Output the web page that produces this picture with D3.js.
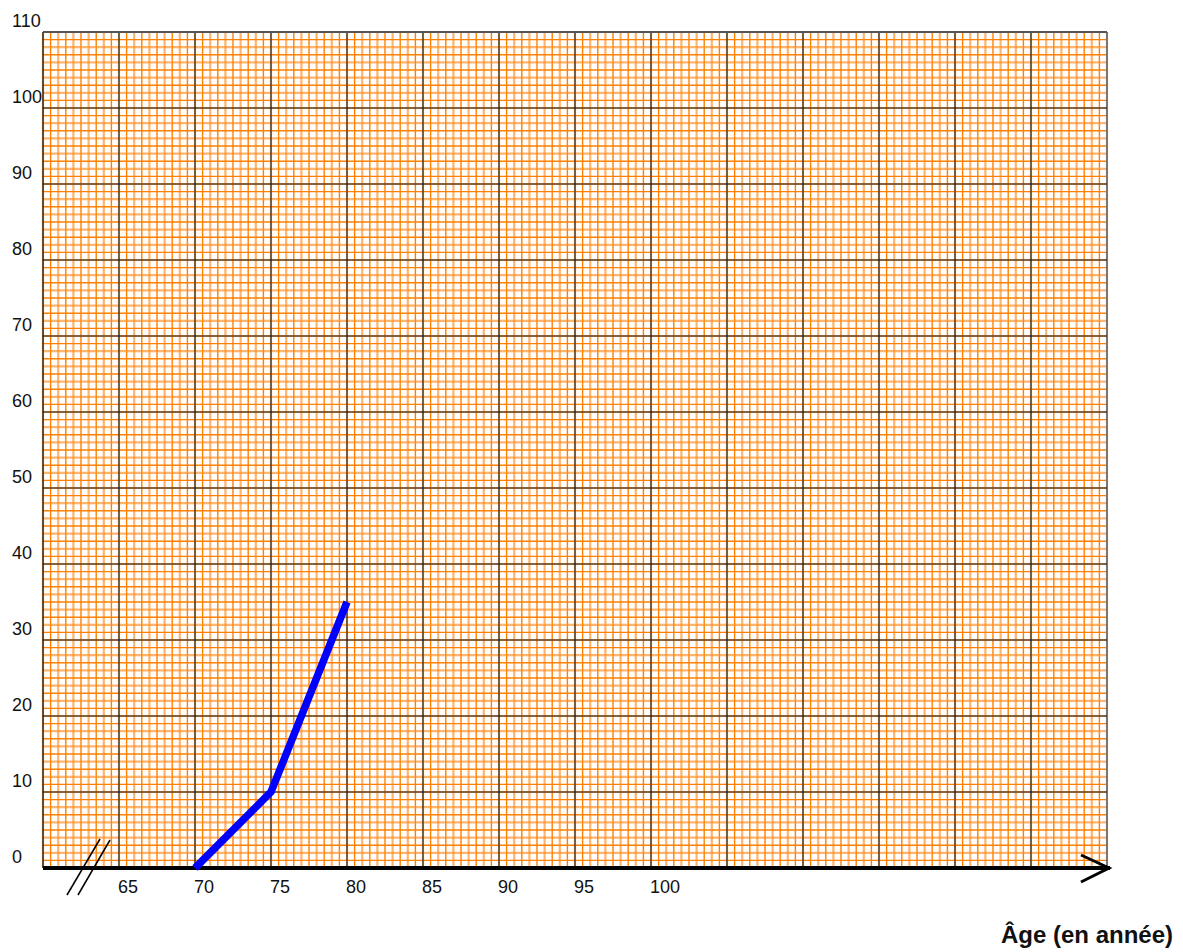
<!DOCTYPE html>
<html>
<head>
<meta charset="utf-8">
<script src="https://cdn.jsdelivr.net/npm/d3@7"></script>
<style>
  html, body { margin: 0; padding: 0; background: #fff; }
  svg { display: block; }
  text { font-family: Arial, "Liberation Sans", sans-serif; fill: #111; }
</style>
</head>
<body>
<svg id="chart" width="1183" height="952"></svg>
<script>
// ---- data ----
const ages = [70, 75, 80];
const values = [0, 10, 35];
const xTickLabels = [65, 70, 75, 80, 85, 90, 95, 100];
const yTickLabels = [0, 10, 20, 30, 40, 50, 60, 70, 80, 90, 100, 110];
const xDomain = [60, 130];
const yDomain = [0, 110];
const xTitle = "Âge (en année)";

const svg = d3.select("#chart");
const x = d3.scaleLinear().domain(xDomain).range([43, 1107]);
const y = d3.scaleLinear().domain(yDomain).range([868, 32]);

const [x0, x1] = x.range();
const [yB, yT] = y.range();

// minor grid (orange)
const minorX = d3.range(xDomain[0], xDomain[1] + 0.001, 0.5);
const minorY = d3.range(yDomain[0], yDomain[1] + 0.001, 1);
const g = svg.append("g");
g.selectAll(".mx").data(minorX).join("line")
  .attr("x1", d => x(d)).attr("x2", d => x(d))
  .attr("y1", yT).attr("y2", yB)
  .attr("stroke", (d, i) => i % 2 ? "#ff8000" : "rgba(255,140,30,0.65)")
  .attr("stroke-width", (d, i) => i % 2 ? 1.4 : 2.2);
g.selectAll(".my").data(minorY).join("line")
  .attr("y1", d => y(d)).attr("y2", d => y(d))
  .attr("x1", x0).attr("x2", x1)
  .attr("stroke", (d, i) => i % 2 ? "#ff8000" : "rgba(255,140,30,0.65)")
  .attr("stroke-width", (d, i) => i % 2 ? 1.4 : 2.2);

// major grid (black)
const majorX = d3.range(xDomain[0], xDomain[1] + 0.001, 5);
const majorY = d3.range(yDomain[0], yDomain[1] + 0.001, 10);
g.selectAll(".Mx").data(majorX).join("line")
  .attr("x1", d => x(d)).attr("x2", d => x(d))
  .attr("y1", yT).attr("y2", yB)
  .attr("stroke", (d, i) => i === 0 ? "#000" : (i === majorX.length - 1 ? "#777" : "#222"))
  .attr("stroke-width", (d, i) => i === majorX.length - 1 ? 2 : 1.2);
g.selectAll(".My").data(majorY).join("line")
  .attr("y1", d => y(d)).attr("y2", d => y(d))
  .attr("x1", x0).attr("x2", x1)
  .attr("stroke", (d, i) => i === majorY.length - 1 ? "#555" : "#111")
  .attr("stroke-width", (d, i) => i === majorY.length - 1 ? 2 : 1.2);

// x axis line with arrow
svg.append("line")
  .attr("x1", x0).attr("x2", x1 + 3).attr("y1", yB).attr("y2", yB)
  .attr("stroke", "#000").attr("stroke-width", 4);
svg.append("path")
  .attr("d", `M${x1 - 26},${yB - 13} L${x1 + 2},${yB} L${x1 - 26},${yB + 14}`)
  .attr("fill", "none").attr("stroke", "#000").attr("stroke-width", 3);

// axis break marks
svg.append("line").attr("x1", 67).attr("y1", 895).attr("x2", 100).attr("y2", 839)
  .attr("stroke", "#000").attr("stroke-width", 1.5);
svg.append("line").attr("x1", 78).attr("y1", 895).attr("x2", 110).attr("y2", 840)
  .attr("stroke", "#000").attr("stroke-width", 1.5);

// data line
const line = d3.line().x(d => x(d[0])).y(d => y(d[1]));
svg.append("path")
  .datum(ages.map((a, i) => [a, values[i]]))
  .attr("d", line)
  .attr("fill", "none").attr("stroke", "#0000ff").attr("stroke-width", 7.5)
  .attr("stroke-linejoin", "miter").attr("stroke-linecap", "butt");

// tick labels
svg.selectAll(".xt").data(xTickLabels).join("text")
  .attr("x", d => x(d) - 1).attr("y", 893)
  .attr("font-size", 18).attr("text-anchor", "start")
  .text(d => d);
svg.selectAll(".yt").data(yTickLabels).join("text")
  .attr("x", 12).attr("y", d => y(d) - 5)
  .attr("font-size", 18).attr("text-anchor", "start")
  .text(d => d);

// axis title
svg.append("text")
  .attr("x", 1173).attr("y", 943)
  .attr("font-size", 24).attr("font-weight", "bold")
  .attr("text-anchor", "end")
  .text(xTitle);
</script>
</body>
</html>
